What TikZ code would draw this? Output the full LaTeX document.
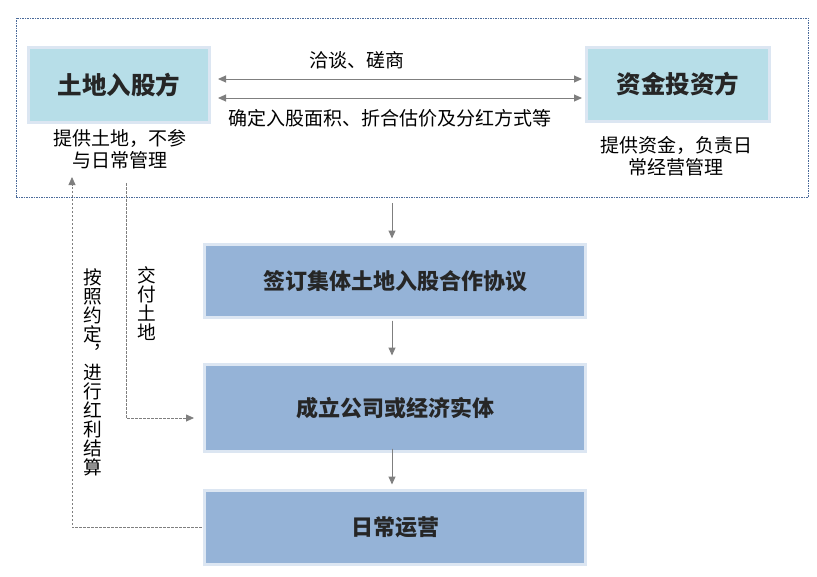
\documentclass[tikz,border=0pt]{standalone}
\usepackage{fontspec}
\setmainfont{Noto Sans CJK SC}
\usetikzlibrary{arrows.meta,calc}
\definecolor{lblue}{HTML}{B7DEE8}
\definecolor{mblue}{HTML}{95B3D7}
\definecolor{edgec}{HTML}{DCE6F2}
\definecolor{agrey}{HTML}{7F7F7F}
\definecolor{dblue}{HTML}{4A6A9A}
\definecolor{txt}{HTML}{262626}
\tikzset{
  topbox/.style={draw=edgec, line width=3pt, fill=lblue, minimum width=181pt, minimum height=75pt,
    inner sep=0pt, text=txt, font=\fontsize{24.5}{28}\selectfont\bfseries},
  stepbox/.style={draw=edgec, line width=3pt, fill=mblue, minimum width=381pt,
    inner sep=0pt, text=txt, font=\fontsize{22}{26}\selectfont\bfseries},
  small/.style={font=\fontsize{19}{22}\selectfont, text=black, align=center, inner sep=0pt},
  vtext/.style={font=\fontsize{18.7}{19}\selectfont, text=black, align=center, inner sep=0pt},
  arr/.style={draw=agrey, line width=1pt, -{Triangle[length=8pt,width=7pt]}, fill=agrey},
  darr/.style={draw=agrey, line width=1pt, {Triangle[length=8pt,width=7pt]}-{Triangle[length=8pt,width=7pt]}},
  dconn/.style={draw=agrey, line width=0.8pt, dash pattern=on 2.5pt off 1.5pt, -{Triangle[length=8pt,width=7pt]}},
}
\begin{document}
\begin{tikzpicture}[x=1pt,y=-1pt]
\useasboundingbox (0,0) rectangle (817,576);
% outer dashed frame
\node[draw=dblue, line width=0.9pt, dash pattern=on 1.5pt off 1pt, minimum width=792pt, minimum height=179pt, inner sep=0pt] (outer) at (412,107.5) {};
% top boxes
\node[topbox] (lbox) at (119,85) {土地入股方};
\node[topbox, minimum width=183pt, minimum height=74pt] (rbox) at (678,84.5) {资金投资方};
\node[small] (lsub) at (120,149) {提供土地，不参\\与日常管理};
\node[small] (rsub) at (676,156) {提供资金，负责日\\常经营管理};
% double arrows
\draw[darr] ($(lbox.east)+(7,-6)$) -- ($(rbox.west)+(-3,-5.5)$);
\draw[darr] ($(lbox.east)+(7,13)$) -- ($(rbox.west)+(-3,13.5)$);
\node[small] (t1) at (357,60) {洽谈、磋商};
\node[small] (t2) at (390,118) {确定入股面积、折合估价及分红方式等};
% steps
\node[stepbox, minimum height=73pt] (s1) at (395,281) {签订集体土地入股合作协议};
\node[stepbox, minimum height=87pt] (s2) at (395,408) {成立公司或经济实体};
\node[stepbox, minimum height=74pt] (s3) at (395,527.5) {日常运营};
% vertical arrows
\draw[arr] ([xshift=-20pt,yshift=-6pt]outer.south) -- ([xshift=-3pt,yshift=4.5pt]s1.north);
\draw[arr] ([xshift=-3pt,yshift=-1.5pt]s1.south) -- ([xshift=-3pt,yshift=7.5pt]s2.north);
\draw[arr] ([xshift=-3pt,yshift=4.5pt]s2.south) -- ([xshift=-3pt,yshift=4.5pt]s3.north);
% dashed side connectors
\coordinate (d1) at (126,183);
\coordinate (d2) at (72,177);
\draw[dconn] (d1) |- ([xshift=-9pt,yshift=-10pt]s2.west);
\draw[dconn] ([xshift=-1.5pt]s3.west) -| (d2);
\node[vtext] (v1) at (147,304) {交\\付\\土\\地};
\node[vtext] (v2) at (93,372) {按\\照\\约\\定\\︐\\进\\行\\红\\利\\结\\算};
\end{tikzpicture}
\end{document}
